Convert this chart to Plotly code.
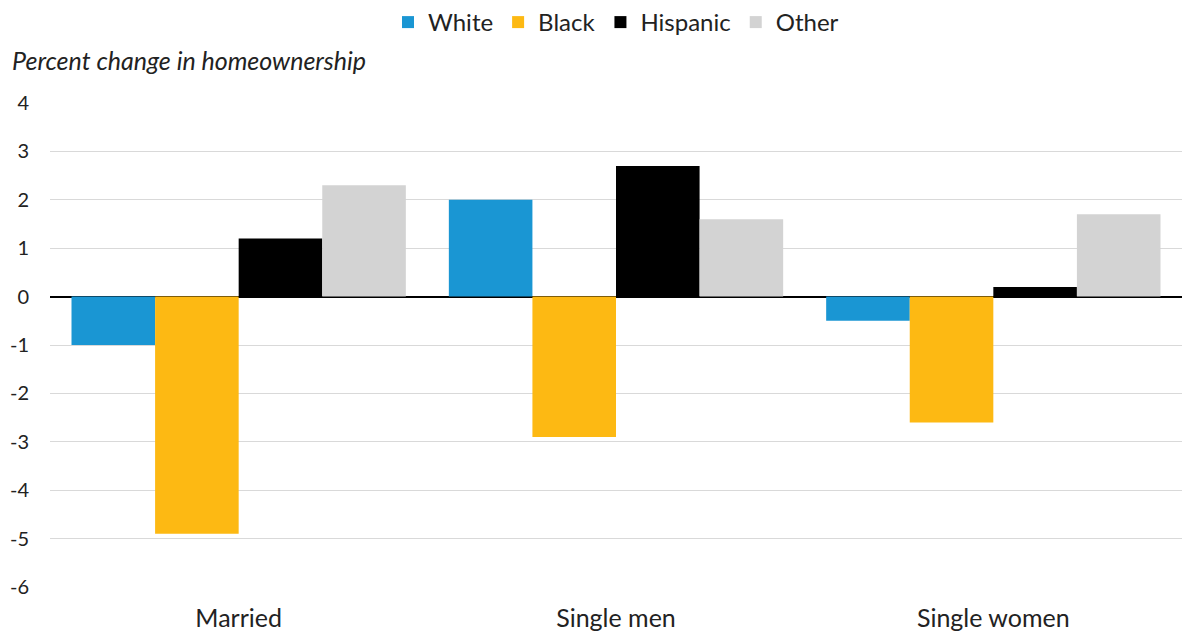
import plotly.graph_objects as go

categories = ["Married", "Single men", "Single women"]
series_names = ["White", "Black", "Hispanic", "Other"]
white = [-1.0, 2.0, -0.5]
black = [-4.9, -2.9, -2.6]
hispanic = [1.2, 2.7, 0.2]
other = [2.3, 1.6, 1.7]
y_ticks = [4, 3, 2, 1, 0, -1, -2, -3, -4, -5, -6]
y_tick_text = ["4", "3", "2", "1", "0", "-1", "-2", "-3", "-4", "-5", "-6"]

colors = ["#1a96d3", "#fdb913", "#000000", "#d3d3d3"]
values = [white, black, hispanic, other]

fig = go.Figure()
for name, vals, col in zip(series_names, values, colors):
    fig.add_trace(go.Bar(x=categories, y=vals, name=name, marker_color=col,
                         marker_line_width=0))

fig.update_layout(
    width=1182, height=633,
    margin=dict(l=50, r=0, t=103, b=46),
    paper_bgcolor="white", plot_bgcolor="white",
    font=dict(family="Lato", size=20, color="#222222"),
    barmode="group", bargap=0.114, bargroupgap=0,
    legend=dict(orientation="h", x=0.5, xanchor="center", y=1.0, yanchor="top",
                yref="container", font=dict(size=24), itemwidth=30,
                traceorder="normal", tracegroupgap=0),
    xaxis=dict(showgrid=False, showline=False, ticks="", ticklabelstandoff=14,
               tickfont=dict(size=25)),
    yaxis=dict(range=[-6, 4], tickvals=y_ticks, ticktext=y_tick_text,
               showgrid=True, gridcolor="#d9d9d9",
               gridwidth=1, zeroline=True, zerolinecolor="#000000", zerolinewidth=2,
               ticks="", ticklabelstandoff=20, tickfont=dict(size=20)),
    annotations=[dict(text="<i>Percent change in homeownership</i>", xref="paper",
                      yref="paper", x=0, y=1, xshift=-40, yshift=43, showarrow=False,
                      xanchor="left", yanchor="middle", font=dict(size=25))],
)

fig.write_html("out.html")
